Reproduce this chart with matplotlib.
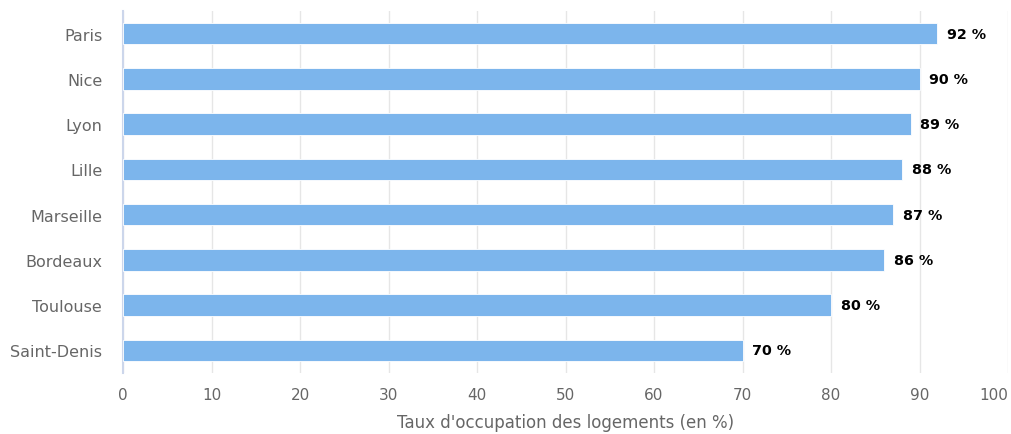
import matplotlib.pyplot as plt

# Données
villes = ['Paris', 'Nice', 'Lyon', 'Lille', 'Marseille', 'Bordeaux', 'Toulouse', 'Saint-Denis']
taux = [92, 90, 89, 88, 87, 86, 80, 70]
ticks_x = [0, 10, 20, 30, 40, 50, 60, 70, 80, 90, 100]

plt.rcParams['font.family'] = ['DejaVu Sans']

fig = plt.figure(figsize=(10.11, 4.35), dpi=100)
ax = fig.add_axes([123 / 1011, 1 - 374 / 435, 885 / 1011, 362 / 435])

pos = list(range(len(villes)))
ax.barh(pos, taux, height=0.47, color='#7cb5ec', edgecolor='white', linewidth=0.6, zorder=3)

for y, v in zip(pos, taux):
    ax.text(v + 1.1, y, f'{v} %', va='center', ha='left', fontsize=10.3,
            fontweight='bold', color='black', zorder=4)

ax.set_ylim(len(villes) - 0.5, -0.5)
ax.set_xlim(0, 100)
ax.set_yticks(pos)
ax.set_yticklabels(villes)
ax.set_xticks(ticks_x)
labels = ax.set_xticklabels([str(t) for t in ticks_x])
labels[-1].set_ha('right')

ax.grid(axis='x', color='#e6e6e6', linewidth=1, zorder=0)
ax.set_axisbelow(True)
for s in ['top', 'right', 'bottom']:
    ax.spines[s].set_visible(False)
ax.spines['left'].set_color('#ccd6eb')
ax.spines['left'].set_linewidth(1.5)

ax.tick_params(axis='both', length=0, labelcolor='#666666')
ax.tick_params(axis='y', pad=15, labelsize=11.5)
ax.tick_params(axis='x', pad=10, labelsize=11)

ax.set_xlabel("Taux d'occupation des logements (en %)", fontsize=12, color='#666666', labelpad=8)

fig.savefig('out.png', dpi=100)
